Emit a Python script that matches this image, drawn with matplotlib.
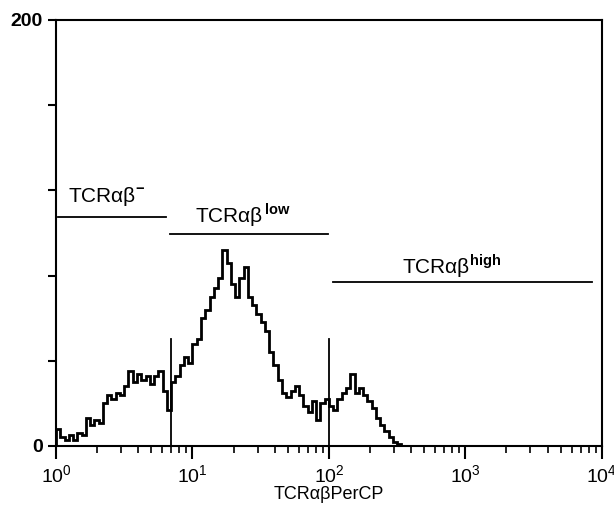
import numpy as np
import matplotlib
matplotlib.use('Agg')
import matplotlib.pyplot as plt
from matplotlib.ticker import LogLocator, FixedLocator, NullFormatter, FixedFormatter

plt.rcParams['font.family'] = ['Liberation Sans', 'DejaVu Sans']
plt.rcParams['mathtext.fontset'] = 'custom'
plt.rcParams['mathtext.rm'] = 'Liberation Sans'
plt.rcParams['mathtext.bf'] = 'Liberation Sans:bold'

# histograma: 32 canais por década, 4 décadas (10^0 .. 10^4)
canais_por_decada = 32
contagens = [8, 4, 3, 5, 3, 6, 5, 13, 10, 12, 11, 20, 24, 22, 25, 24,
             28, 35, 30, 34, 31, 33, 29, 33, 35, 26, 17, 30, 33, 38, 42, 39,
             48, 50, 60, 64, 70, 74, 79, 92, 86, 76, 70, 79, 84, 70, 66, 62,
             58, 54, 44, 38, 31, 25, 23, 26, 28, 24, 19, 16, 21, 12, 20, 22,
             19, 17, 22, 25, 27, 34, 25, 27, 24, 21, 18, 13, 10, 7, 4, 2,
             1]
contagens = contagens + [0] * (4 * canais_por_decada - len(contagens))

# gates (x inicial, x final, altura)
gate_nomes = ['TCRαβ$^{\\mathbf{-}}$', 'TCRαβ$^{\\,\\mathbf{low}}$', 'TCRαβ$^{\\mathbf{high}}$']
gate_x0 = [1.03, 6.84, 107]
gate_x1 = [6.4, 98.4, 8540]
gate_y = [107.5, 99.5, 77]
texto_x = [1.22, 10.4, 343]
texto_y = [114.5, 104.7, 81]

# marcadores verticais
marcadores_x = [6.96, 100]
marcador_topo = 50

fig = plt.figure(figsize=(6.14, 5.16), dpi=100)
ax = fig.add_axes([0.0912, 0.1357, 0.889, 0.8256])

bordas = 10 ** (np.arange(len(contagens) + 1) / canais_por_decada)
ax.stairs(contagens, bordas, color='black', linewidth=2.0)

for x0, x1, y in zip(gate_x0, gate_x1, gate_y):
    ax.plot([x0, x1], [y, y], color='black', linewidth=1.3)
for nome, tx, ty in zip(gate_nomes, texto_x, texto_y):
    ax.text(tx, ty, nome, fontsize=15, ha='left', va='baseline')
for mx in marcadores_x:
    ax.plot([mx, mx], [0, marcador_topo], color='black', linewidth=1.3)

ax.set_xscale('log')
ax.set_xlim(1, 1e4)
ax.set_ylim(0, 200)

ax.xaxis.set_major_locator(LogLocator(base=10, numticks=10))
ax.xaxis.set_minor_locator(LogLocator(base=10, subs=np.arange(2, 10), numticks=10))
ax.xaxis.set_minor_formatter(NullFormatter())
ax.tick_params(axis='x', which='major', direction='out', length=9, width=1.5, labelsize=14, pad=4)
ax.tick_params(axis='x', which='minor', direction='out', length=5, width=1.2)

ax.yaxis.set_major_locator(FixedLocator([0, 40, 80, 120, 160, 200]))
ax.yaxis.set_major_formatter(FixedFormatter(['0', '', '', '', '', '200']))
ax.tick_params(axis='y', direction='out', length=6, width=1.5, labelsize=14)
for rotulo in ax.get_yticklabels():
    rotulo.set_fontweight('bold')

for lado in ['left', 'bottom', 'top', 'right']:
    ax.spines[lado].set_linewidth(1.5)

ax.set_xlabel('TCRαβPerCP', fontsize=13, labelpad=0)

plt.savefig('out.png', dpi=100)
plt.close()
